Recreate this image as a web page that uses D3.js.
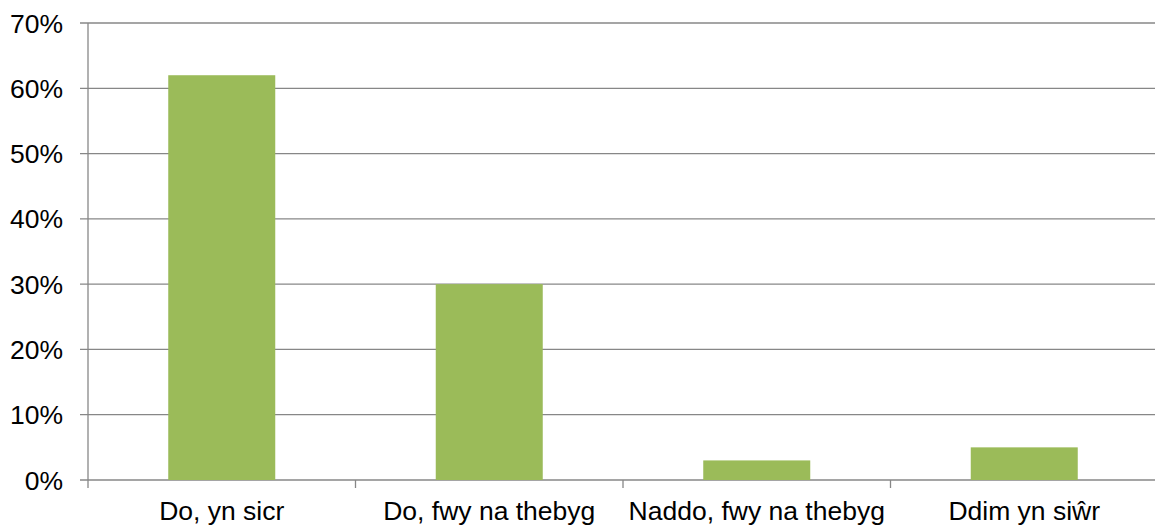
<!DOCTYPE html>
<html><head><meta charset="utf-8">
<script src="https://cdn.jsdelivr.net/npm/d3@7"></script>
<style>html,body{margin:0;padding:0;background:#fff;}svg{display:block;}</style>
</head><body>
<svg id="c" width="1155" height="527"></svg>
<script>
const categories = ["Do, yn sicr", "Do, fwy na thebyg", "Naddo, fwy na thebyg", "Ddim yn siŵr"];
const values = [0.62, 0.30, 0.03, 0.05];
const yTicks = [0, 0.1, 0.2, 0.3, 0.4, 0.5, 0.6, 0.7];

(function () {
const svg = d3.select("#c");
const mLeft = 88, mRight = 1158, mTop = 23, mBottom = 480;
const x = d3.scaleBand().domain(categories).range([mLeft, mRight]).paddingInner(0.6).paddingOuter(0.3);
const xb = d3.scaleBand().domain(categories).range([mLeft, mRight]);
const y = d3.scaleLinear().domain([0, 0.7]).range([mBottom, mTop]);
const grid = "#878787";
const font = "'Liberation Sans', Arial, sans-serif";

svg.append("g").selectAll("line").data(yTicks).join("line")
  .attr("x1", mLeft - 8).attr("x2", 1155)
  .attr("y1", d => y(d)).attr("y2", d => y(d))
  .attr("stroke", grid).attr("stroke-width", 1.3);

svg.append("line").attr("x1", mLeft).attr("x2", mLeft).attr("y1", mTop).attr("y2", mBottom + 8)
  .attr("stroke", grid).attr("stroke-width", 1.3);

svg.append("g").selectAll("line").data(categories.slice(1)).join("line")
  .attr("x1", d => xb(d)).attr("x2", d => xb(d)).attr("y1", mBottom).attr("y2", mBottom + 8)
  .attr("stroke", grid).attr("stroke-width", 1.3);

svg.append("g").selectAll("rect").data(values).join("rect")
  .attr("x", (d, i) => x(categories[i])).attr("width", x.bandwidth())
  .attr("y", d => y(d)).attr("height", d => y(0) - y(d))
  .attr("fill", "#9bbb59");

svg.append("g").selectAll("text").data(yTicks).join("text")
  .attr("x", 63).attr("y", d => y(d)).attr("dy", "0.36em")
  .attr("text-anchor", "end").attr("font-family", font).attr("font-size", 26.5).attr("fill", "#000")
  .text(d => d3.format(".0%")(d));

svg.append("g").selectAll("text").data(categories).join("text")
  .attr("x", d => xb(d) + xb.bandwidth() / 2).attr("y", 520)
  .attr("text-anchor", "middle").attr("font-family", font).attr("font-size", 26.5).attr("fill", "#000")
  .text(d => d);
})();
</script>
</body></html>
